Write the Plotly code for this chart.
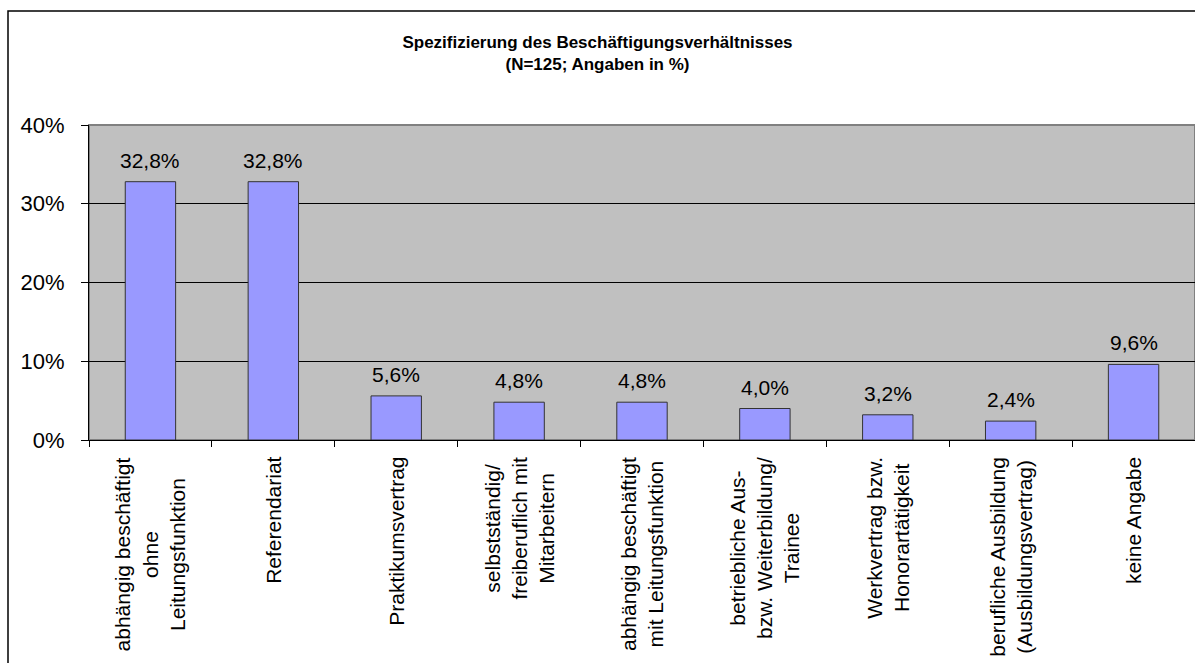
import plotly.graph_objects as go

categories = [
    "abhängig beschäftigt ohne Leitungsfunktion",
    "Referendariat",
    "Praktikumsvertrag",
    "selbstständig/ freiberuflich mit Mitarbeitern",
    "abhängig beschäftigt mit Leitungsfunktion",
    "betriebliche Aus- bzw. Weiterbildung/ Trainee",
    "Werkvertrag bzw. Honorartätigkeit",
    "berufliche Ausbildung (Ausbildungsvertrag)",
    "keine Angabe",
]
label_lines = [
    "abhängig beschäftigt<br>ohne<br>Leitungsfunktion",
    "Referendariat",
    "Praktikumsvertrag",
    "selbstständig/<br>freiberuflich mit<br>Mitarbeitern",
    "abhängig beschäftigt<br>mit Leitungsfunktion",
    "betriebliche Aus-<br>bzw. Weiterbildung/<br>Trainee",
    "Werkvertrag bzw.<br>Honorartätigkeit",
    "berufliche Ausbildung<br>(Ausbildungsvertrag)",
    "keine Angabe",
]
values = [32.8, 32.8, 5.6, 4.8, 4.8, 4.0, 3.2, 2.4, 9.6]
y_ticks = [0, 10, 20, 30, 40]
y_tick_text = ["0%", "10%", "20%", "30%", "40%"]
title_text = "<b>Spezifizierung des Beschäftigungsverhältnisses<br>(N=125; Angaben in %)</b>"

FONT = "Arial, Liberation Sans, sans-serif"
W, H = 1195, 663
ML, MR, MT, MB = 89, 0, 125, 223
PW, PH = W - ML - MR, H - MT - MB

fig = go.Figure()
fig.add_trace(go.Bar(
    x=categories, y=values,
    marker=dict(color="#9999FF", line=dict(color="#333333", width=1)),
    hoverinfo="x+y",
))

annotations = []
for c, v in zip(categories, values):
    annotations.append(dict(
        x=c, y=v, xref="x", yref="y", text=f"{v:.1f}%".replace(".", ","),
        showarrow=False, yanchor="bottom", xanchor="center", yshift=8,
        font=dict(family=FONT, size=21, color="black"),
    ))
for c, lab in zip(categories, label_lines):
    annotations.append(dict(
        x=c, y=-15 / PH, xref="x", yref="paper", text=lab, textangle=-90,
        showarrow=False, yanchor="top", xanchor="center", align="center",
        font=dict(family=FONT, size=21, color="black"),
    ))

fig.update_layout(
    width=W, height=H,
    margin=dict(l=ML, r=MR, t=MT, b=MB, pad=0),
    paper_bgcolor="white",
    plot_bgcolor="#C0C0C0",
    bargap=0.59,
    showlegend=False,
    title=dict(text=title_text, x=0.5, xref="container", xanchor="center",
               y=1 - 48 / H, yref="container", yanchor="top",
               font=dict(family=FONT, size=17, color="black")),
    xaxis=dict(type="category", showticklabels=False, ticks="outside", tickson="boundaries",
               ticklen=6, tickcolor="black", showline=True, linecolor="black", linewidth=1,
               showgrid=False, fixedrange=True),
    yaxis=dict(range=[0, 40], tickmode="array", tickvals=y_ticks, ticktext=y_tick_text,
               ticks="outside", ticklen=7, ticklabelstandoff=12,
               tickcolor="black", showline=True, linecolor="black", linewidth=1,
               showgrid=True, gridcolor="black", gridwidth=1, zeroline=False,
               tickfont=dict(family=FONT, size=22, color="black"), fixedrange=True),
    annotations=annotations,
    shapes=[
        dict(type="rect", xref="paper", yref="paper", x0=0, x1=1, y0=0, y1=1,
             line=dict(color="#808080", width=2), layer="between"),
        dict(type="rect", xref="paper", yref="paper",
             x0=(8 - ML) / PW, x1=1.05, y0=-2, y1=(PH + MT - 11) / PH,
             line=dict(color="black", width=1.5)),
    ],
)

fig.write_html("out.html", config={"displayModeBar": False},
               post_script="document.body.style.margin='0';")
